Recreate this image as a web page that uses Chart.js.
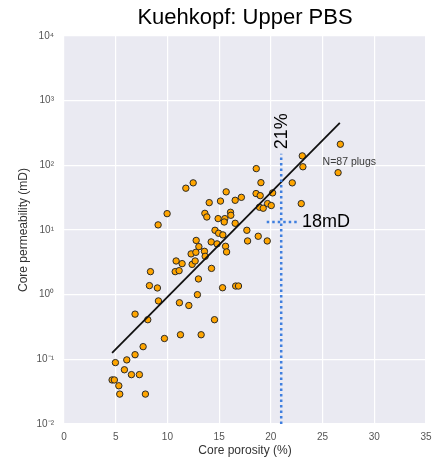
<!DOCTYPE html>
<html>
<head>
<meta charset="utf-8">
<script src="https://cdn.jsdelivr.net/npm/chart.js@4"></script>
<style>
  html, body { margin: 0; padding: 0; background: #fff; }
  #wrap { width: 432px; height: 461px; position: relative; }
</style>
</head>
<body>
<div id="wrap"><canvas id="chart"></canvas></div>
<script>
// Upper PBS core plugs: porosity (%) vs permeability (mD)
const POROSITY = [
  4.65, 4.87, 4.97, 5.3, 5.39, 5.84, 6.07, 6.52, 6.87, 7.29,
  6.87, 7.65, 7.87, 8.1, 8.26, 8.36, 9.03, 9.13, 9.71, 10.75,
  10.84, 11.13, 11.16, 11.26, 11.42, 12.07, 12.29, 12.39, 12.68, 12.75,
  12.78, 12.9, 13.0, 13.04, 13.26, 13.58, 13.65, 14.26, 14.23, 14.55,
  14.6, 14.95, 15.36, 15.62, 15.72, 15.33, 16.6, 16.87, 17.68, 17.75,
  18.78, 19.65, 14.8, 14.04, 15.13, 16.55, 9.97, 9.1, 13.62, 13.81,
  14.9, 15.55, 16.1, 16.13, 15.49, 16.55, 18.59, 12.49, 11.78, 15.68,
  17.15, 18.57, 26.72, 23.04, 23.1, 26.5, 22.07, 19.04, 18.97, 20.17,
  19.68, 18.9, 19.26, 20.04, 22.94
];
const PERMEABILITY = [
  0.048, 0.048, 0.089, 0.039, 0.029, 0.069, 0.098, 0.058, 0.118, 0.058,
  0.50, 0.157, 0.029, 0.41, 1.38, 2.27, 1.27, 0.80, 0.21, 2.27,
  3.32, 2.35, 0.75, 0.24, 3.02, 0.68, 4.27, 2.94, 3.32, 4.52,
  6.9, 1.0, 1.75, 5.53, 0.24, 4.68, 3.92, 2.55, 6.54, 0.41,
  9.9, 8.9, 8.4, 5.6, 4.58, 1.28, 1.36, 1.36, 9.9, 6.77,
  8.0, 6.77, 6.1, 26.5, 28, 28.8, 17.9, 12, 18.1, 15.9,
  15, 15, 18.8, 16.9, 13.3, 12.7, 89, 53.6, 44.3, 38.9,
  32, 36.6, 212, 140, 95, 77, 53.6, 54, 34, 37.5,
  25.6, 22.5, 21.7, 23.9, 25.6
];

// regression line end points
const FIT_X = [4.65, 26.67];
const FIT_Y = [0.126, 455];

// cut-off markers: 21 % porosity, "18mD" level as drawn
const CUT_V_X = [21, 21];
const CUT_V_Y = [0.01, 151];
const CUT_H_X = [19.6, 22.5];
const CUT_H_Y = [13.3, 13.3];

const X_TICKS = [0, 5, 10, 15, 20, 25, 30, 35];
const Y_TICKS = [0.01, 0.1, 1, 10, 100, 1000, 10000];
const Y_TICK_LABELS = ["10\u207B\u00B2", "10\u207B\u00B9", "10\u2070", "10\u00B9", "10\u00B2", "10\u00B3", "10\u2074"];

const TITLE = "Kuehkopf: Upper PBS";
const NOTES = [
  { text: "21%", x: 21.1, y: 337, size: 18, rot: -Math.PI / 2, align: "center", color: "#000" },
  { text: "18mD", x: 23.0, y: 13.3, size: 18, rot: 0, align: "left", color: "#000" },
  { text: "N=87 plugs", x: 25.0, y: 112, size: 10.5, rot: 0, align: "left", color: "#3a3a3a" }
];

const FONT = "'Liberation Sans', Arial, sans-serif";

const pts = (xs, ys) => xs.map((x, i) => ({ x, y: ys[i] }));

const bgPlugin = {
  id: "bg",
  beforeDraw(chart) {
    const { ctx, chartArea: a } = chart;
    ctx.save();
    ctx.fillStyle = "#EAEAF2";
    ctx.fillRect(a.left, a.top, a.right - a.left, a.bottom - a.top);
    ctx.restore();
  }
};

const textPlugin = {
  id: "texts",
  afterDraw(chart) {
    const { ctx, chartArea: a, scales } = chart;
    ctx.save();
    ctx.fillStyle = "#000";
    ctx.font = `22px ${FONT}`;
    ctx.textAlign = "center";
    ctx.textBaseline = "middle";
    ctx.fillText(TITLE, (a.left + a.right) / 2, 18);

    NOTES.forEach(n => {
      const px = scales.x.getPixelForValue(n.x);
      const py = scales.y.getPixelForValue(n.y);
      ctx.save();
      ctx.translate(px, py);
      ctx.rotate(n.rot);
      ctx.font = `${n.size}px ${FONT}`;
      ctx.fillStyle = n.color;
      ctx.textAlign = n.align;
      ctx.textBaseline = "middle";
      ctx.fillText(n.text, 0, 0);
      ctx.restore();
    });
    ctx.restore();
  }
};

// no label overhang padding: the plot box is fixed by layout padding
const fixPad = s => { s.paddingLeft = 0; s.paddingRight = 0; s.paddingTop = 0; s.paddingBottom = 0; };

new Chart(document.getElementById("chart"), {
  type: "scatter",
  data: {
    datasets: [
      {
        label: "cut-off porosity",
        data: pts(CUT_V_X, CUT_V_Y),
        showLine: true,
        borderColor: "#3F7FDF",
        borderWidth: 2.5,
        borderDash: [2.5, 3],
        pointRadius: 0
      },
      {
        label: "cut-off permeability",
        data: pts(CUT_H_X, CUT_H_Y),
        showLine: true,
        borderColor: "#3F7FDF",
        borderWidth: 2.5,
        borderDash: [2.5, 3],
        pointRadius: 0
      },
      {
        label: "fit",
        data: pts(FIT_X, FIT_Y),
        showLine: true,
        borderColor: "#111",
        borderWidth: 1.8,
        pointRadius: 0
      },
      {
        label: "plugs",
        data: pts(POROSITY, PERMEABILITY),
        backgroundColor: "#FFA500",
        borderColor: "#2a2a2a",
        borderWidth: 1,
        pointRadius: 3.2
      }
    ]
  },
  options: {
    responsive: true,
    maintainAspectRatio: false,
    animation: false,
    layout: { padding: { top: 36, right: 6, left: 0, bottom: 0 } },
    plugins: {
      legend: { display: false },
      tooltip: { enabled: false },
      title: { display: false }
    },
    scales: {
      x: {
        type: "linear",
        min: 0,
        max: 35,
        afterBuildTicks: s => { s.ticks = X_TICKS.map(v => ({ value: v })); },
        afterFit: s => { s.height = 37; fixPad(s); },
        ticks: { color: "#555", font: { size: 10, family: FONT }, padding: 7, autoSkip: false, maxRotation: 0 },
        grid: { color: "#fff", lineWidth: 1.2, drawTicks: false },
        border: { display: false },
        title: {
          display: true,
          text: "Core porosity (%)",
          color: "#333",
          font: { size: 12, family: FONT },
          padding: { top: 0, bottom: 3 }
        }
      },
      y: {
        type: "logarithmic",
        min: 0.01,
        max: 10000,
        afterBuildTicks: s => { s.ticks = Y_TICKS.map(v => ({ value: v })); },
        afterFit: s => { s.width = 64; fixPad(s); },
        ticks: {
          color: "#555",
          font: { size: 10, family: FONT },
          padding: 10,
          autoSkip: false,
          callback: v => {
            const i = Y_TICKS.findIndex(t => Math.abs(Math.log10(t) - Math.log10(v)) < 1e-6);
            return i >= 0 ? Y_TICK_LABELS[i] : "";
          }
        },
        grid: { color: "#fff", lineWidth: 1.2, drawTicks: false },
        border: { display: false },
        title: {
          display: true,
          text: "Core permeability (mD)",
          color: "#333",
          font: { size: 12, family: FONT },
          padding: { top: 16, bottom: 0 }
        }
      }
    }
  },
  plugins: [bgPlugin, textPlugin]
});
</script>
</body>
</html>
